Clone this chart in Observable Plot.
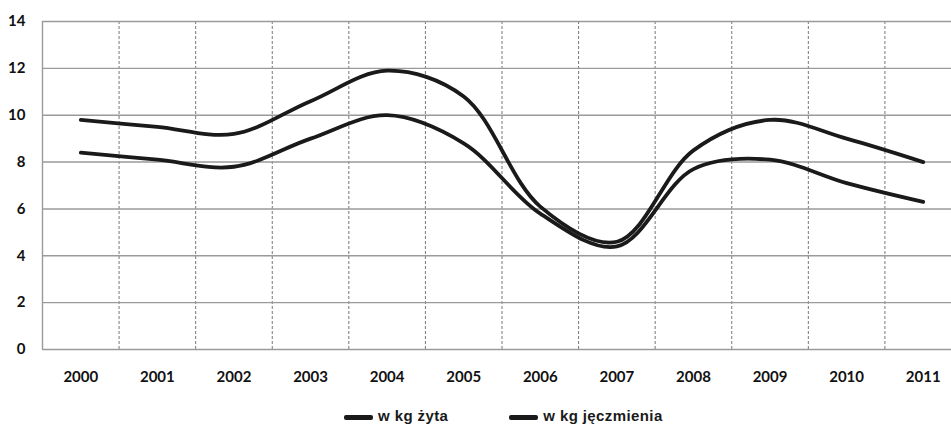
<!DOCTYPE html>
<html>
<head>
<meta charset="utf-8">
<script src="https://cdn.jsdelivr.net/npm/d3@7"></script>
<script src="https://cdn.jsdelivr.net/npm/@observablehq/plot@0.6"></script>
<style>
  html, body { margin: 0; padding: 0; background: #fff; overflow: hidden; }
  #chart svg { display: block; }
  .legend { display: flex; align-items: center; height: 17px; line-height: 17px; padding-top: 15px; padding-left: 344px;
            font: bold 15px "Liberation Sans", Arial, sans-serif; letter-spacing: 0.4px; color: #1a1a1a; }
  .legend .item { display: flex; align-items: center; }
  .legend .sw { width: 29px; height: 4.5px; background: #1a1a1a; margin-right: 5px; border-radius: 2px;
                position: relative; top: 2px; }
  .legend .item + .item { margin-left: 61px; }
</style>
</head>
<body>
<div id="chart"></div>
<div class="legend">
  <div class="item"><span class="sw"></span><span id="l0"></span></div>
  <div class="item"><span class="sw"></span><span id="l1"></span></div>
</div>
<script>
const years = [2000, 2001, 2002, 2003, 2004, 2005, 2006, 2007, 2008, 2009, 2010, 2011];
const rye = [8.4, 8.1, 7.8, 9.0, 10.0, 8.8, 5.8, 4.4, 7.7, 8.1, 7.1, 6.3];
const barley = [9.8, 9.5, 9.2, 10.6, 11.9, 10.8, 6.1, 4.6, 8.5, 9.8, 9.0, 8.0];
const seriesNames = ["w kg żyta", "w kg jęczmienia"];
const yTicks = [0, 2, 4, 6, 8, 10, 12, 14];

document.getElementById("l0").textContent = seriesNames[0];
document.getElementById("l1").textContent = seriesNames[1];

const rows = [
  ...years.map((y, i) => ({year: y, value: rye[i], series: seriesNames[0]})),
  ...years.map((y, i) => ({year: y, value: barley[i], series: seriesNames[1]}))
];
// dashed separators sit halfway between consecutive years
const separators = years.slice(0, -1).map(y => y + 0.5);

const chart = Plot.plot({
  width: 951,
  height: 392,
  marginTop: 21,
  marginBottom: 43,
  marginLeft: 42,
  marginRight: 0,
  style: {fontFamily: "Lato, 'Open Sans', sans-serif", fontSize: "15px", fontWeight: "bold", color: "#111", background: "#fff"},
  x: {domain: [1999.5, 2011.5], range: [42, 961]},
  y: {domain: [0, 14]},
  marks: [
    Plot.ruleX(separators, {stroke: "#777", strokeWidth: 1, strokeDasharray: "3,2"}),
    Plot.ruleY(yTicks, {stroke: "#9a9a9a", strokeWidth: 1.4}),
    Plot.ruleX([1999.5], {stroke: "#9a9a9a", strokeWidth: 1.4}),
    Plot.axisX(years, {tickSize: 0, tickPadding: 22, tickFormat: d => String(d), label: null}),
    Plot.axisY(yTicks, {tickSize: 0, tickPadding: 17, label: null}),
    Plot.line(rows, {x: "year", y: "value", z: "series", stroke: "#1a1a1a", strokeWidth: 3.8, curve: "catmull-rom"})
  ]
});
document.getElementById("chart").appendChild(chart);
</script>
</body>
</html>
